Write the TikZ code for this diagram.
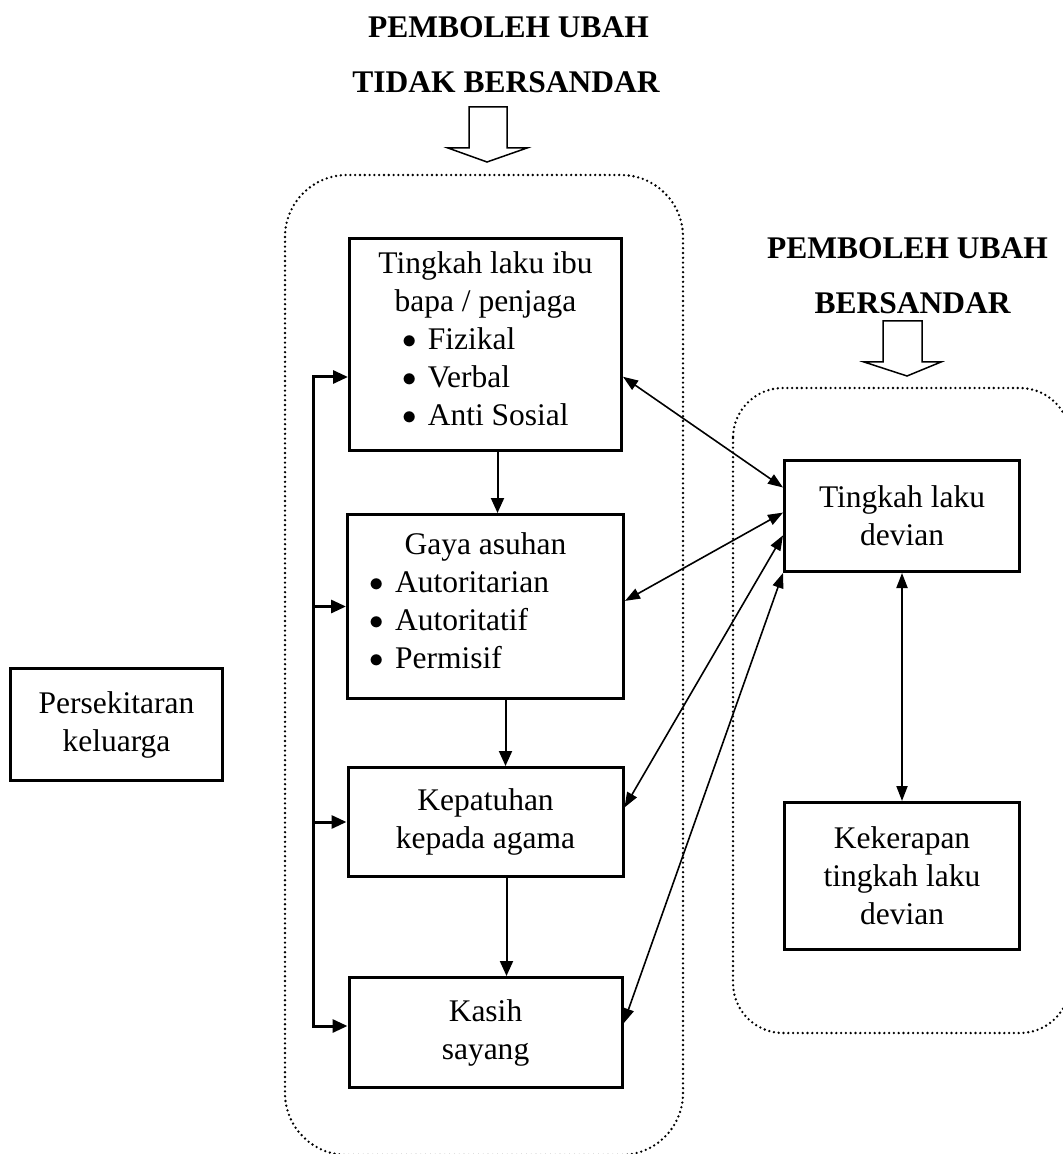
\documentclass[tikz,border=0pt]{standalone}
\usepackage{fontspec}
\setmainfont{Liberation Serif}
\usetikzlibrary{calc,arrows.meta,positioning}
\newcommand\bitem[1]{\raisebox{0.6pt}{$\bullet$}\hspace{5.5pt}#1}

\begin{document}
\begin{tikzpicture}[x=0.5pt,y=-0.5pt,>={Triangle[length=7.5pt,width=6.5pt]}]
        \tikzset{block/.style={draw, rectangle, line width=1.5pt, align=center, font=\fontsize{15.75}{19}\selectfont},
        title/.style={font=\fontsize{15.75}{19}\selectfont\bfseries, inner sep=0pt},
        groupbox/.style={line width=1.3pt, dash pattern=on 0pt off 2.4pt, line cap=round, rounded corners=#1},
        hollow/.style={draw, line width=0.75pt, line join=miter},
        bus/.style={line width=1.5pt},
        flow/.style={line width=1pt},
        link/.style={line width=0.8pt, <->, >={Triangle[length=7.5pt,width=5.5pt]}},
        }
        \useasboundingbox (0,0) rectangle (1063,1154);
        \clip (0,0) rectangle (1063,1154);

        \node [title] (ivA) at (508.5,27.5) {PEMBOLEH UBAH};
        \node [title] (ivB) at (506,82.5) {TIDAK BERSANDAR};
        \node [title] (dvA) at (907.5,248) {PEMBOLEH UBAH};
        \node [title] (dvB) at (912.5,303) {BERSANDAR};

        \node [block, minimum width=136pt, minimum height=106pt] (parent) at (485.5,344.5)
              {Tingkah laku ibu\\bapa / penjaga\\ \begin{tabular}[t]{@{}l@{}}\bitem{Fizikal}\\ \bitem{Verbal}\\ \bitem{Anti Sosial}\end{tabular}};
        \node [block, minimum width=138pt, minimum height=92pt, below=30.5pt of parent] (style)
              {Gaya asuhan\\ \hspace*{-26pt}\begin{tabular}[t]{@{}l@{}}\bitem{Autoritarian}\\ \bitem{Autoritatif}\\ \bitem{Permisif}\end{tabular}};
        \node [block, minimum width=137.5pt, minimum height=54.5pt, below=33pt of style] (religion) {Kepatuhan\\kepada agama};
        \node [block, minimum width=136.5pt, minimum height=55pt, below=49pt of religion] (care) {Kasih\\sayang};
        \node [block, minimum width=106pt, minimum height=56pt] (env) at (116.5,724.5) {Persekitaran\\keluarga};
        \node [block, minimum width=117.5pt, minimum height=55.5pt] (devian) at (902,516) {Tingkah laku\\devian};
        \node [block, minimum width=117.5pt, minimum height=73.5pt, below=114pt of devian] (freq) {Kekerapan\\tingkah laku\\devian};

%% groups
        \draw[groupbox=31pt] (285,175) rectangle (683,1155);
        \draw[groupbox=25pt] (733,388) rectangle (1070,1033);
        \draw[hollow] (469,107) -- (507,107) -- (507,148) -- (527,148) -- (487,162) -- (448,148) -- (469,148) -- cycle;
        \draw[hollow] (883,321) -- (922,321) -- (922,362) -- (941,362) -- (907,376) -- (864,362) -- (883,362) -- cycle;

%% paths
        \coordinate (bustop) at (313,377);
        \coordinate (busbot) at (313,1026);
        \draw[bus,<->] (bustop -| parent.west) -- (bustop) -- (busbot) -- (busbot -| care.west);
        \draw[bus,->] (bustop |- style.west) -- (style.west);
        \draw[bus,->] (bustop |- religion.west) -- (religion.west);

        \draw[flow,->] ([xshift=6pt]parent.south) -- ([xshift=6pt]style.north);
        \draw[flow,->] ([xshift=10pt]style.south) -- ([xshift=10pt]religion.north);
        \draw[flow,->] ([xshift=10.5pt]religion.south) -- ([xshift=10.5pt]care.north);

        \draw[link] ($(parent.north east)!.65!(parent.south east)$) -- ($(devian.north west)!.25!(devian.south west)$);
        \draw[link] ($(style.north east)!.47!(style.south east)$) -- ($(devian.north west)!.47!(devian.south west)$);
        \draw[link] ($(religion.north east)!.37!(religion.south east)$) -- ($(devian.north west)!.67!(devian.south west)$);
        \draw[link] ($(care.north east)!.42!(care.south east)$) -- (devian.south west);
        \draw[link, line width=1pt] (devian) -- (freq);
\end{tikzpicture}
\end{document}
